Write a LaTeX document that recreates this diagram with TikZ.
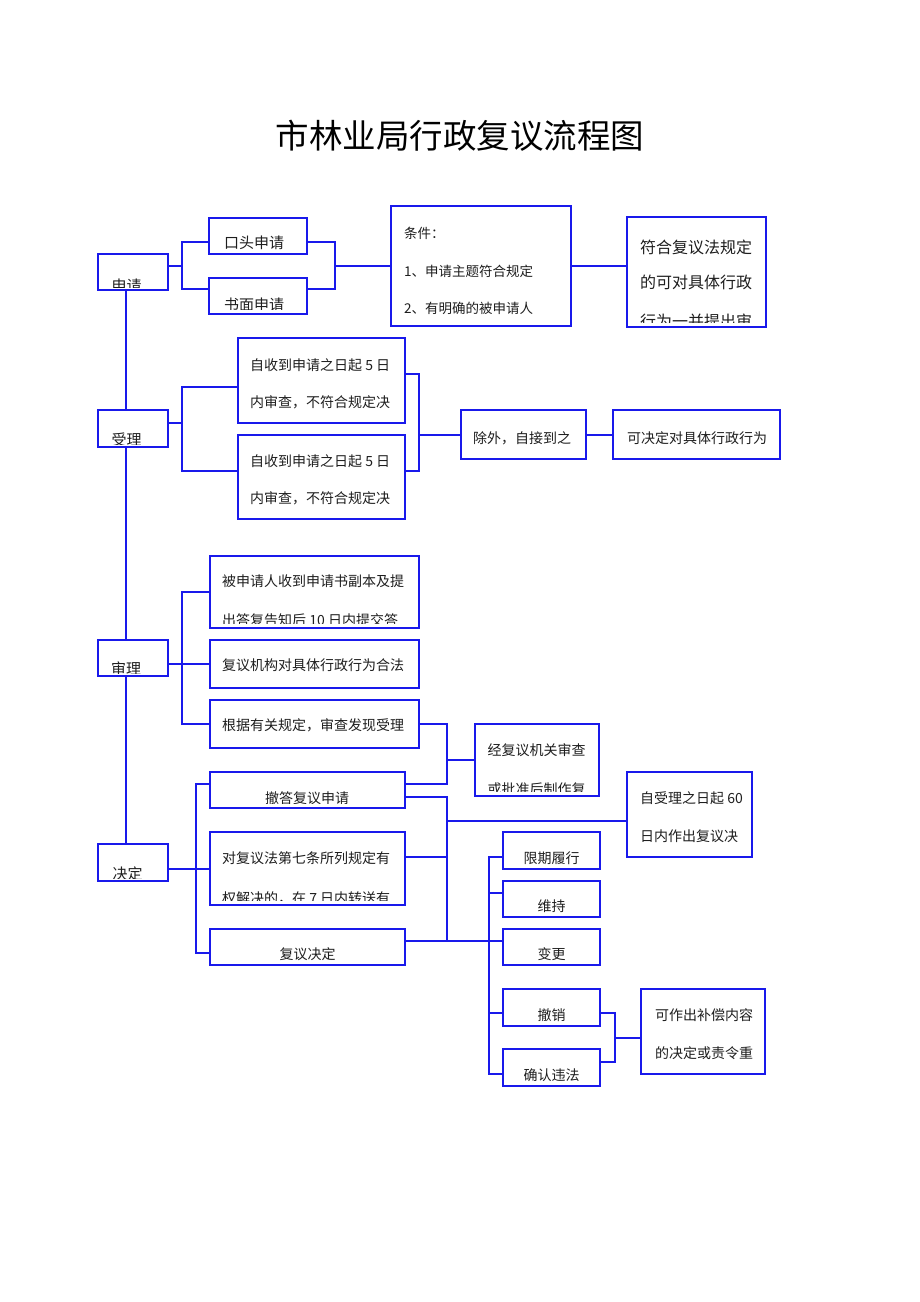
\documentclass[tikz,border=0pt]{standalone}
\usepackage{fontspec}
\setmainfont{Noto Sans CJK SC}
\definecolor{boxblue}{RGB}{25,25,235}
\definecolor{txtcol}{RGB}{30,30,30}
\tikzset{
  box/.style={draw=boxblue, line width=1.4pt, inner sep=0pt, outer sep=0pt, fill=white},
  ln/.style={draw=boxblue, line width=1.2pt},
  txt/.style={anchor=base west, inner sep=0pt, text=txtcol},
  txc/.style={anchor=base, inner sep=0pt, text=txtcol}
}
\newcommand{\bx}[5]{\node[box, minimum width={(#4)-(#2)}, minimum height={(#5)-(#3)}] (#1) at ({((#2)+(#4))/2},{((#3)+(#5))/2}) {};}
\newcommand{\tl}[6]{\begin{scope}\clip ([yshift=5pt]#1.south west) rectangle (#1.north east);
\node[txt, font=\fontsize{#5pt}{#5pt}\selectfont] (#2) at (#3,{#4+0.38*#5}) {#6};\end{scope}}
\newcommand{\tk}[6]{\begin{scope}\clip ([yshift=3pt]#1.south west) rectangle (#1.north east);
\node[txt, font=\fontsize{#5pt}{#5pt}\selectfont] (#2) at (#3,{#4+0.38*#5}) {#6};\end{scope}}
\newcommand{\tc}[6]{\begin{scope}\clip ([yshift=5pt]#1.south west) rectangle (#1.north east);
\node[txc, font=\fontsize{#5pt}{#5pt}\selectfont] (#2) at (#3,{#4+0.38*#5}) {#6};\end{scope}}
\begin{document}
\begin{tikzpicture}[x=1pt,y=-1pt]
\useasboundingbox[fill=white] (0,0) rectangle (920,1302);
% title
\node[txc, font=\fontsize{33.5pt}{33.5pt}\selectfont, text=black] (title) at (460,{135.5+0.38*33.5}) {市林业局行政复议流程图};
% boxes
\bx{sq}{98}{254}{168}{290}
\bx{sl}{98}{410}{168}{447}
\bx{sr}{98}{640}{168}{676}
\bx{jd}{98}{844}{168}{881}
\bx{kt}{209}{218}{307}{254}
\bx{sm}{209}{278}{307}{314}
\bx{tj}{391}{206}{571}{326}
\bx{fh}{627}{217}{766}{327}
\bx{a1}{238}{338}{405}{423}
\bx{a2}{238}{435}{405}{519}
\bx{cw}{461}{410}{586}{459}
\bx{kj}{613}{410}{780}{459}
\bx{b1}{210}{556}{419}{628}
\bx{b2}{210}{640}{419}{688}
\bx{b3}{210}{700}{419}{748}
\bx{jf}{475}{724}{599}{796}
\bx{cd}{210}{772}{405}{808}
\bx{zs}{627}{772}{752}{857}
\bx{c2}{210}{832}{405}{905}
\bx{c3}{210}{929}{405}{965}
\bx{d1}{503}{832}{600}{869}
\bx{d2}{503}{881}{600}{917}
\bx{d3}{503}{929}{600}{965}
\bx{d4}{503}{989}{600}{1026}
\bx{d5}{503}{1049}{600}{1086}
\bx{e}{641}{989}{765}{1074}
% texts
\tk{sq}{tsq}{111.5}{286}{15}{申请}
\tk{sl}{tsl}{111.5}{440}{15}{受理}
\tk{sr}{tsr}{111}{669}{15}{审理}
\tk{jd}{tjd}{112.5}{874}{15}{决定}
\tl{kt}{tkt}{224}{242.7}{15}{口头申请}
\tl{sm}{tsm}{224}{304.3}{15}{书面申请}
\tl{tj}{ttj1}{404}{233}{13.5}{条件：}
\tl{tj}{ttj2}{404}{271}{13.5}{1、申请主题符合规定}
\tl{tj}{ttj3}{404}{308}{13.5}{2、有明确的被申请人}
\tl{fh}{tfh1}{640}{247}{16}{符合复议法规定}
\tl{fh}{tfh2}{640}{282}{16}{的可对具体行政}
\tl{fh}{tfh3}{640}{321}{16}{行为一并提出审}
\tl{a1}{ta11}{250}{365}{14}{自收到申请之日起 5 日}
\tl{a1}{ta12}{250}{402}{14}{内审查，不符合规定决}
\tl{a2}{ta21}{250}{461}{14}{自收到申请之日起 5 日}
\tl{a2}{ta22}{250}{498}{14}{内审查，不符合规定决}
\tl{cw}{tcw}{473}{438}{14}{除外，自接到之}
\tl{kj}{tkj}{627}{438}{14}{可决定对具体行政行为}
\tl{b1}{tb11}{222}{581}{14}{被申请人收到申请书副本及提}
\tl{b1}{tb12}{222}{620}{14}{出答复告知后 10 日内提交答}
\tl{b2}{tb2}{222}{665}{14}{复议机构对具体行政行为合法}
\tl{b3}{tb3}{222}{725}{14}{根据有关规定，审查发现受理}
\tl{jf}{tjf1}{487.5}{750}{14}{经复议机关审查}
\tl{jf}{tjf2}{487.5}{789}{14}{或批准后制作复}
\tc{cd}{tcd}{307}{798}{14}{撤答复议申请}
\tl{zs}{tzs1}{640}{798}{14}{自受理之日起 60}
\tl{zs}{tzs2}{640}{836}{14}{日内作出复议决}
\tl{c2}{tc21}{222}{858}{14}{对复议法第七条所列规定有}
\tl{c2}{tc22}{222}{898}{14}{权解决的，在 7 日内转送有}
\tc{c3}{tc3}{307.5}{954}{14}{复议决定}
\tc{d1}{td1}{551.5}{858}{14}{限期履行}
\tc{d2}{td2}{551.5}{906}{14}{维持}
\tc{d3}{td3}{551.5}{954}{14}{变更}
\tc{d4}{td4}{551.5}{1015}{14}{撤销}
\tc{d5}{td5}{551.5}{1075}{14}{确认违法}
\tl{e}{te1}{655}{1015}{14}{可作出补偿内容}
\tl{e}{te2}{655}{1053}{14}{的决定或责令重}
% junction coordinates
\coordinate (sp) at (126,0);
\coordinate (j1) at (182,266); \coordinate (j1t) at (182,242); \coordinate (j1b) at (182,289);
\coordinate (j2) at (335,266); \coordinate (j2t) at (335,242); \coordinate (j2b) at (335,289);
\coordinate (j3) at (182,423); \coordinate (j3t) at (182,387); \coordinate (j3b) at (182,471);
\coordinate (j4) at (419,435); \coordinate (j4t) at (419,374); \coordinate (j4b) at (419,471);
\coordinate (j5) at (182,664); \coordinate (j5t) at (182,592); \coordinate (j5b) at (182,724);
\coordinate (j6) at (447,760); \coordinate (j6t) at (447,724); \coordinate (j6b) at (447,784);
\coordinate (j7) at (196,869); \coordinate (j7t) at (196,784); \coordinate (j7b) at (196,953);
\coordinate (j8t) at (447,797); \coordinate (j8m) at (447,821); \coordinate (j8c) at (447,857); \coordinate (j8b) at (447,941);
\coordinate (j9t) at (489,857); \coordinate (j9b) at (489,1074);
\coordinate (j10) at (615,1038); \coordinate (j10t) at (615,1013); \coordinate (j10b) at (615,1062);
% connectors
\draw[ln] (sq.south -| sp) -- (sl.north -| sp);
\draw[ln] (sl.south -| sp) -- (sr.north -| sp);
\draw[ln] (sr.south -| sp) -- (jd.north -| sp);
\draw[ln] (sq.east |- j1) -- (j1);
\draw[ln] (kt.west |- j1t) -- (j1t) -- (j1b) -- (sm.west |- j1b);
\draw[ln] (kt.east |- j2t) -- (j2t) -- (j2b) -- (sm.east |- j2b);
\draw[ln] (j2) -- (tj.west |- j2);
\draw[ln] (tj.east |- j2) -- (fh.west |- j2);
\draw[ln] (sl.east |- j3) -- (j3);
\draw[ln] (a1.west |- j3t) -- (j3t) -- (j3b) -- (a2.west |- j3b);
\draw[ln] (a1.east |- j4t) -- (j4t) -- (j4b) -- (a2.east |- j4b);
\draw[ln] (j4) -- (cw.west |- j4);
\draw[ln] (cw.east |- j4) -- (kj.west |- j4);
\draw[ln] (sr.east |- j5) -- (b2.west |- j5);
\draw[ln] (b1.west |- j5t) -- (j5t) -- (j5b) -- (b3.west |- j5b);
\draw[ln] (b3.east |- j6t) -- (j6t) -- (j6b) -- (cd.east |- j6b);
\draw[ln] (j6) -- (jf.west |- j6);
\draw[ln] (jd.east |- j7) -- (c2.west |- j7);
\draw[ln] (cd.west |- j7t) -- (j7t) -- (j7b) -- (c3.west |- j7b);
\draw[ln] (cd.east |- j8t) -- (j8t) -- (j8b);
\draw[ln] (c3.east |- j8b) -- (d3.west |- j8b);
\draw[ln] (j8m) -- (zs.west |- j8m);
\draw[ln] (c2.east |- j8c) -- (j8c);
\draw[ln] (d1.west |- j9t) -- (j9t) -- (j9b) -- (d5.west |- j9b);
\draw[ln] (j9t |- 0,893) -- (d2.west |- 0,893);
\draw[ln] (j9t |- 0,1013) -- (d4.west |- 0,1013);
\draw[ln] (d4.east |- j10t) -- (j10t) -- (j10b) -- (d5.east |- j10b);
\draw[ln] (j10) -- (e.west |- j10);
\end{tikzpicture}
\end{document}
